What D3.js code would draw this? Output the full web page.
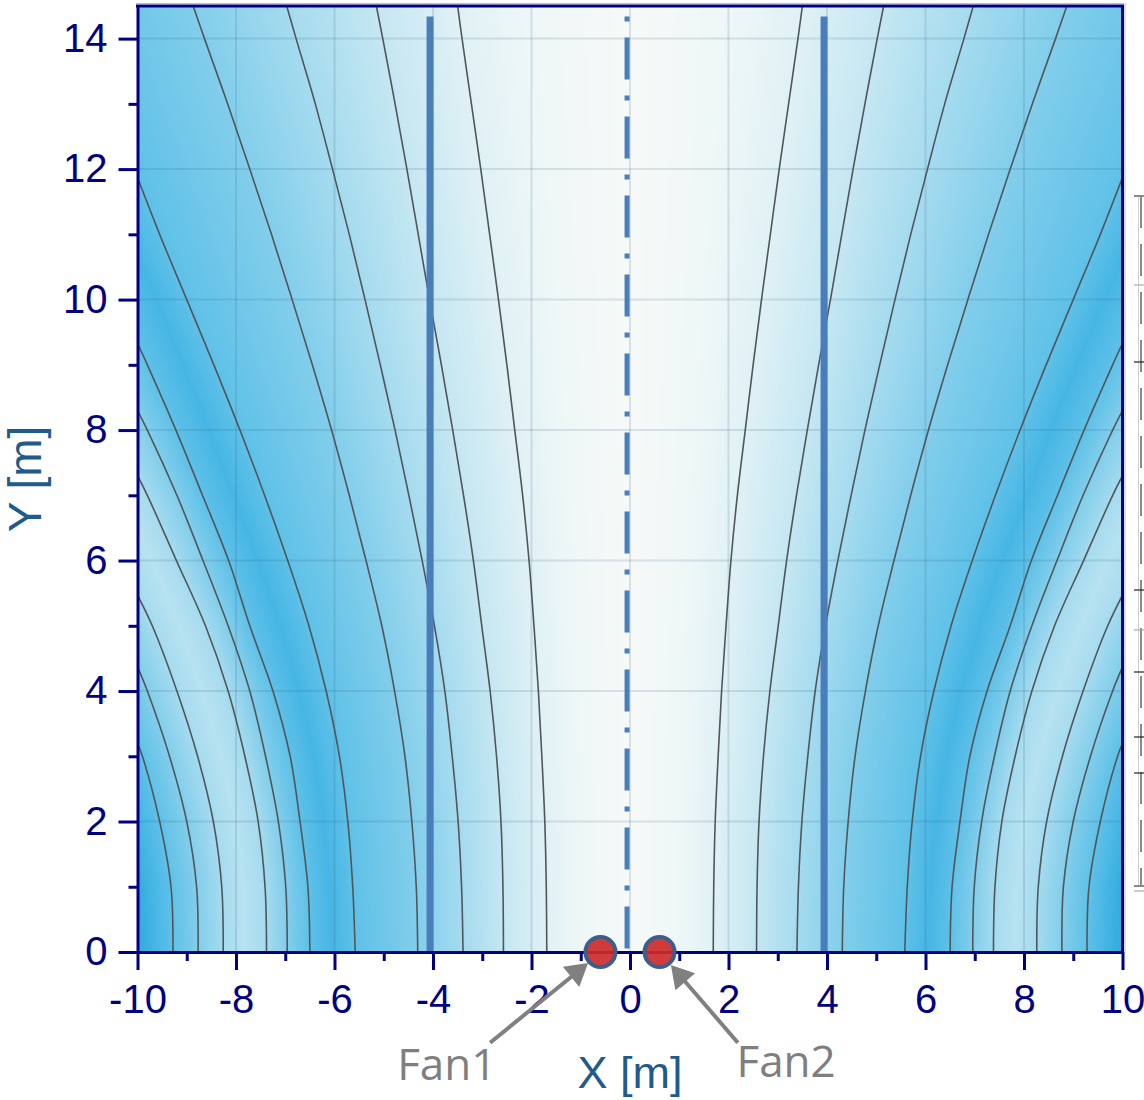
<!DOCTYPE html>
<html><head><meta charset="utf-8">
<script src="https://cdn.jsdelivr.net/npm/d3@7"></script>
<style>body{margin:0;background:#fff} svg{display:block}</style>
</head><body>
<svg id="chart" width="1144" height="1100"></svg>
<script>
// ---------------- data ----------------
const xDomain = [-10, 10];
const yDomain = [0, 14.5];
const xTicks = [-10, -8, -6, -4, -2, 0, 2, 4, 6, 8, 10];
const xMinorTicks = [-9, -7, -5, -3, -1, 1, 3, 5, 7, 9];
const yTicks = [0, 2, 4, 6, 8, 10, 12, 14];
const yMinorTicks = [1, 3, 5, 7, 9, 11, 13];

// Contour lines of the right half [x, y] (field is mirror-symmetric about x = 0)
const lineA = [[1.69,0],[1.70,1],[1.73,2],[1.79,3],[1.86,4],[1.95,5],[2.05,6],[2.18,7],[2.34,8],[2.50,9],[2.67,10],[2.85,11],[3.03,12],[3.22,13],[3.41,14],[3.50,14.5]];
const lineB = [[2.57,0],[2.58,1],[2.62,2],[2.71,3],[2.84,4],[3.01,5],[3.18,6],[3.38,7],[3.60,8],[3.83,9],[4.07,10],[4.30,11],[4.53,12],[4.77,13],[5.02,14],[5.15,14.5]];
const lineC = [[3.39,0],[3.42,1],[3.49,2],[3.61,3],[3.76,4],[3.97,5],[4.22,6],[4.49,7],[4.77,8],[5.07,9],[5.38,10],[5.70,11],[6.04,12],[6.39,13],[6.78,14],[6.97,14.5]];
const lineD = [[4.31,0],[4.34,1],[4.43,2],[4.57,3],[4.78,4],[5.04,5],[5.36,6],[5.70,7],[6.06,8],[6.45,9],[6.86,10],[7.28,11],[7.72,12],[8.17,13],[8.64,14],[8.87,14.5]];
const lineE = [[5.58,0],[5.63,1],[5.73,2],[5.90,3],[6.17,4],[6.52,5],[6.95,6],[7.42,7],[7.92,8],[8.45,9],[9.00,10],[9.55,11],[10,11.87]];
const lineF = [[6.50,0],[6.54,1],[6.70,2],[6.90,3],[7.25,4],[7.72,5],[8.15,6],[8.68,7],[9.22,8],[9.80,9],[10,9.33]];
const lineG = [[6.96,0],[6.99,1],[7.14,2],[7.40,3],[7.72,4],[8.16,5],[8.67,6],[9.20,7],[9.80,8],[10,8.30]];
const lineH = [[7.38,0],[7.41,1],[7.55,2],[7.82,3],[8.16,4],[8.62,5],[9.21,6],[9.80,7],[10,7.3]];
const lineI = [[8.26,0],[8.29,1],[8.46,2],[8.78,3],[9.20,4],[9.70,5],[10,5.47]];
const lineJ = [[8.77,0],[8.80,1],[9.00,2],[9.35,3],[9.80,4],[10,4.37]];
const lineK = [[9.28,0],[9.32,1],[9.55,2],[9.90,3],[10,3.2]];
const contourLines = [lineA, lineB, lineC, lineD, lineE, lineF, lineG, lineH, lineI, lineJ, lineK];
const contourLevels = [1, 2, 3, 4, 5, 5, 4, 3, 3, 4, 5];

// Ridge / trough lines of the shading (not drawn)
const ridgeCenter = [[0,0],[0,14.5]];
const ridgeDark = [[6.04,0],[6.09,1],[6.22,2],[6.42,3],[6.72,4],[7.10,5],[7.55,6],[8.05,7],[8.55,8],[9.08,9],[9.62,10],[10,10.65]];
const ridgeLight = [[7.82,0],[7.85,1],[8.00,2],[8.30,3],[8.68,4],[9.16,5],[9.70,6],[10,6.45]];
const ridgeLines = [ridgeCenter, ridgeDark, ridgeLight];
const ridgeLevels = [0, 5.7, 2.4];

// Colour map of the field level
const levelStops  = [0, 0.6, 1, 2, 3, 4, 5, 5.7, 6.3];
const levelColors = ["#f6f9f8","#eef7f7","#e0f1f5","#c5e7f2","#a5dbef","#82ceeb","#5fc1e8","#47b6e5","#35aadf"];

// Walls and centre line
const wallX = [-4.06, 3.94];
const centerX = [-0.06];
const wallTop = 14.34;

// Fans
const fanX = [-0.6, 0.6];
const fanY = [0, 0];
const fanLabels = ["Fan1", "Fan2"];
const fanLabelX = [-3.72, 3.17];
const fanLabelY = [-1.96, -1.915];
const fanArrowFromX = [-2.84, 2.19];
const fanArrowFromY = [-1.39, -1.39];
const fanArrowToX = [-0.85, 0.83];
const fanArrowToY = [-0.17, -0.2];

// ---------------- chart ----------------
const svg = d3.select('#chart');
const x = d3.scaleLinear().domain(xDomain).range([137.5, 1122.5]);
const y = d3.scaleLinear().domain(yDomain).range([952, 6]);
const NAVY = "#000080";

const defs = svg.append('defs');
defs.append('clipPath').attr('id','plotClip').append('rect')
  .attr('x', x(-10)).attr('y', y(14.5)).attr('width', x(10)-x(-10)).attr('height', y(0)-y(14.5));

// ---- shaded field: interpolate level between the lines of each row ----
function extend(pts){
  // lines leaving through the side edge are continued (for shading only) with their last slope
  const a = pts[pts.length-2], b = pts[pts.length-1];
  if (b[1] >= yDomain[1]) return pts;
  const s = (b[0]-a[0])/(b[1]-a[1]);
  return pts.concat([[b[0] + s*(yDomain[1]-b[1]), yDomain[1]]]);
}
const fieldLines = contourLines.map((p,i)=>({pts:extend(p), v:contourLevels[i]}))
  .concat(ridgeLines.map((p,i)=>({pts:extend(p), v:ridgeLevels[i]})));
function xAt(pts, yy){
  if (yy < pts[0][1] || yy > pts[pts.length-1][1]) return null;
  for (let k=0; k<pts.length-1; k++){
    const a=pts[k], b=pts[k+1];
    if (yy>=a[1] && yy<=b[1]){ const t=(yy-a[1])/(b[1]-a[1]||1); return a[0]+t*(b[0]-a[0]); }
  }
  return null;
}
const color = d3.scaleLinear().domain(levelStops).range(levelColors).clamp(true);
const vmax = levelStops[levelStops.length-1];
const lut = d3.range(0, Math.round(vmax*100)+1).map(i=>d3.rgb(color(i/100)));
const px0 = x(xDomain[0]), px1 = x(xDomain[1]), py0 = y(yDomain[1]), py1 = y(yDomain[0]);
const cw = Math.round(px1-px0), ch = Math.round(py1-py0);
const cv = document.createElement('canvas'); cv.width=cw; cv.height=ch;
const ctx = cv.getContext('2d'); const img = ctx.createImageData(cw, ch);
for (let j=0;j<ch;j++){
  const yy = y.invert(py0+j+0.5);
  const cross=[];
  fieldLines.forEach(L=>{ const xx=xAt(L.pts,yy); if(xx!==null) cross.push({x:xx,v:L.v}); });
  cross.sort((a,b)=>a.x-b.x);
  const n=cross.length;
  for (let i=0;i<cw;i++){
    const ax = Math.abs(x.invert(px0+i+0.5));
    let k=0; while(k<n-1 && cross[k+1].x<=ax) k++;
    let v;
    if (k<n-1){ const a=cross[k], b=cross[k+1]; v=a.v+(ax-a.x)/(b.x-a.x)*(b.v-a.v); }
    else { const a=cross[n-2], b=cross[n-1]; let dv=(ax-b.x)*(b.v-a.v)/(b.x-a.x); dv=Math.max(-1.2,Math.min(1.2,dv)); v=b.v+dv; }
    v=Math.max(0,Math.min(vmax,v));
    const c=lut[Math.round(v*100)]; const o=(j*cw+i)*4;
    img.data[o]=c.r; img.data[o+1]=c.g; img.data[o+2]=c.b; img.data[o+3]=255;
  }
}
ctx.putImageData(img,0,0);
svg.append('image').attr('x',px0).attr('y',py0).attr('width',cw).attr('height',ch)
  .attr('preserveAspectRatio','none').attr('href', cv.toDataURL());

const plot = svg.append('g').attr('clip-path','url(#plotClip)');
// grid
plot.selectAll('.gx').data(xTicks.filter(d=>d>xDomain[0]&&d<xDomain[1])).enter().append('line')
  .attr('x1',d=>x(d)).attr('x2',d=>x(d)).attr('y1',y(0)).attr('y2',y(14.5))
  .attr('stroke','rgba(40,90,120,0.15)').attr('stroke-width',2);
plot.selectAll('.gy').data(yTicks.filter(d=>d>0)).enter().append('line')
  .attr('y1',d=>y(d)).attr('y2',d=>y(d)).attr('x1',x(-10)).attr('x2',x(10))
  .attr('stroke','rgba(40,90,120,0.15)').attr('stroke-width',2);

// contour lines (right half + mirrored left half)
const line = d3.line().x(d=>x(d[0])).y(d=>y(d[1])).curve(d3.curveCatmullRom.alpha(0.5));
const allContours = contourLines.concat(contourLines.map(p=>p.map(d=>[-d[0],d[1]])));
plot.selectAll('.contour').data(allContours).enter().append('path')
  .attr('d', line).attr('fill','none').attr('stroke','#50565a').attr('stroke-width',1.6);

// walls
plot.selectAll('.wall').data(wallX).enter().append('line')
  .attr('x1',d=>x(d)).attr('x2',d=>x(d)).attr('y1',y(wallTop)).attr('y2',y(0))
  .attr('stroke','#4a7ebb').attr('stroke-width',7);
plot.selectAll('.center').data(centerX).enter().append('line')
  .attr('x1',d=>x(d)).attr('x2',d=>x(d)).attr('y1',y(wallTop)).attr('y2',y(0))
  .attr('stroke','#4a7ebb').attr('stroke-width',5).attr('stroke-dasharray','5,16,42,16');

// frame top/right
svg.append('line').attr('x1',x(-10)-1.5).attr('x2',x(10)+1.5).attr('y1',y(14.5)).attr('y2',y(14.5)).attr('stroke',NAVY).attr('stroke-width',3);
svg.append('line').attr('x1',x(10)).attr('x2',x(10)).attr('y1',y(14.5)).attr('y2',y(0)).attr('stroke',NAVY).attr('stroke-width',3);
svg.append('line').attr('x1',x(-10)-1.5).attr('x2',x(10)+1.5).attr('y1',y(14.5)-2.5).attr('y2',y(14.5)-2.5).attr('stroke','#b8b8e6').attr('stroke-width',1);
svg.append('line').attr('x1',x(10)+2.5).attr('x2',x(10)+2.5).attr('y1',y(14.5)-3).attr('y2',y(0)).attr('stroke','#b8b8e6').attr('stroke-width',1);

// axes
const fmt = d=>String(d);
function styleAxis(g){
  g.select('.domain').attr('stroke',NAVY).attr('stroke-width',3);
  g.selectAll('.tick line').attr('stroke',NAVY).attr('stroke-width',3);
  g.selectAll('.tick text').attr('fill',NAVY).attr('font-family','"Liberation Sans", Arial, sans-serif').attr('font-size',40);
}
const gxMinor = svg.append('g').attr('transform',`translate(0,${y(0)})`)
  .call(d3.axisBottom(x).tickValues(xMinorTicks).tickSize(9).tickFormat(''));
styleAxis(gxMinor); gxMinor.select('.domain').remove();
const gyMinor = svg.append('g').attr('transform',`translate(${x(-10)},0)`)
  .call(d3.axisLeft(y).tickValues(yMinorTicks).tickSize(9).tickFormat(''));
styleAxis(gyMinor); gyMinor.select('.domain').remove();
const gx = svg.append('g').attr('transform',`translate(0,${y(0)})`)
  .call(d3.axisBottom(x).tickValues(xTicks).tickSize(18).tickPadding(15).tickFormat(fmt).tickSizeOuter(0));
styleAxis(gx);
const gy = svg.append('g').attr('transform',`translate(${x(-10)},0)`)
  .call(d3.axisLeft(y).tickValues(yTicks).tickSize(19).tickPadding(11).tickFormat(fmt).tickSizeOuter(0));
styleAxis(gy);

// axis titles
svg.append('text').attr('x', x(0)).attr('y', 1088).attr('text-anchor','middle')
  .attr('fill','#1f5b8c').attr('font-family','"Liberation Sans", Arial, sans-serif').attr('font-size',45).text('X [m]');
svg.append('text').attr('transform',`translate(41,${y(7.25)}) rotate(-90)`).attr('text-anchor','middle')
  .attr('fill','#1f5b8c').attr('font-family','"Liberation Sans", Arial, sans-serif').attr('font-size',46).text('Y [m]');

// fans
svg.selectAll('.fan').data(fanX).enter().append('circle')
  .attr('cx',d=>x(d)).attr('cy',(d,i)=>y(fanY[i])).attr('r',15)
  .attr('fill','#cc2a2a').attr('fill-opacity',0.92).attr('stroke','#3b5e8c').attr('stroke-width',4);

// arrows + labels
fanLabels.forEach((lab,i)=>{
  const x0=x(fanArrowFromX[i]), y0=y(fanArrowFromY[i]), x1=x(fanArrowToX[i]), y1=y(fanArrowToY[i]);
  const dx=x1-x0, dy=y1-y0, L=Math.hypot(dx,dy), ux=dx/L, uy=dy/L;
  const hl=22, hw=13;
  const bx=x1-ux*hl, by=y1-uy*hl;
  svg.append('line').attr('x1',x0).attr('y1',y0).attr('x2',bx+ux*2).attr('y2',by+uy*2)
    .attr('stroke','#808080').attr('stroke-width',4);
  svg.append('path').attr('d',`M${x1},${y1}L${bx-uy*hw},${by+ux*hw}L${bx+uy*hw},${by-ux*hw}Z`).attr('fill','#808080');
  svg.append('text').attr('x',x(fanLabelX[i])).attr('y',y(fanLabelY[i])).attr('text-anchor','middle')
    .attr('fill','#7f7f7f').attr('font-family','"Open Sans", sans-serif').attr('font-size',44).text(lab);
});

// clipped colour-scale fragment at the right edge
const frag = svg.append('g');
frag.append('line').attr('x1',1141).attr('x2',1141).attr('y1',196).attr('y2',887).attr('stroke','#8a8a8a').attr('stroke-width',2).attr('stroke-dasharray','32,16');
frag.append('line').attr('x1',1138.5).attr('x2',1138.5).attr('y1',196).attr('y2',887).attr('stroke','#d0d0d0').attr('stroke-width',1);
frag.append('line').attr('x1',1134).attr('x2',1144).attr('y1',196).attr('y2',196).attr('stroke','#8a8a8a').attr('stroke-width',2);
frag.append('line').attr('x1',1134).attr('x2',1144).attr('y1',886).attr('y2',886).attr('stroke','#8a8a8a').attr('stroke-width',2);
frag.append('line').attr('x1',1134).attr('x2',1144).attr('y1',891).attr('y2',891).attr('stroke','#cccccc').attr('stroke-width',2);
[362,590,672,737,773].forEach(t=>frag.append('line').attr('x1',1134).attr('x2',1144).attr('y1',t).attr('y2',t).attr('stroke','#222').attr('stroke-width',1.2));
[285,630].forEach(t=>frag.append('line').attr('x1',1134).attr('x2',1144).attr('y1',t).attr('y2',t).attr('stroke','#aaa').attr('stroke-width',1.2));
</script>
</body></html>
